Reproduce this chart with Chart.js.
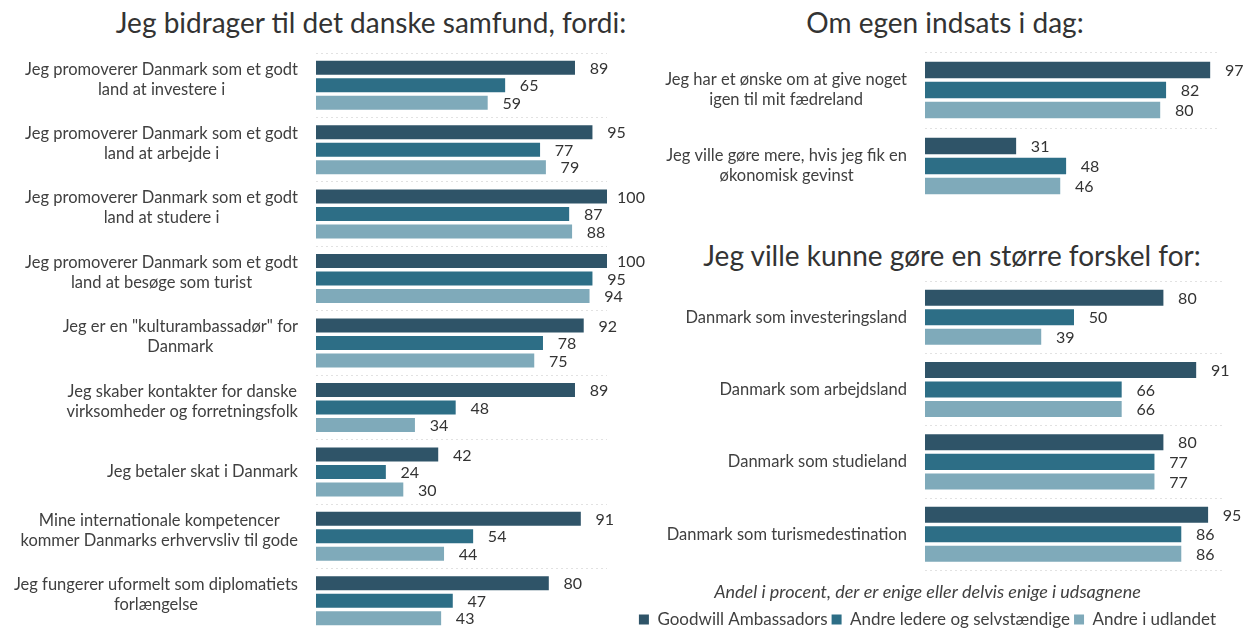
<!DOCTYPE html>
<html>
<head>
<meta charset="utf-8">
<script src="https://cdn.jsdelivr.net/npm/chart.js@4.4.1/dist/chart.umd.min.js"></script>
<style>
  body { margin: 0; width: 1245px; height: 628px; background: #fff; overflow: hidden; position: relative; font-family: Lato, sans-serif; }
  canvas { position: absolute; }
  .title { position: absolute; width: 640px; height: 34px; line-height: 34px; font-size: 28px; color: #333; text-align: center; white-space: nowrap; }
</style>
</head>
<body>
<div class="title" style="left:51px; top:5px;">Jeg bidrager til det danske samfund, fordi:</div>
<div class="title" style="left:625px; top:5px;">Om egen indsats i dag:</div>
<div class="title" style="left:632px; top:238px;">Jeg ville kunne gøre en større forskel for:</div>

<canvas id="leftChart" width="660" height="580" style="left:0; top:53px;"></canvas>
<canvas id="topChart" width="605" height="152" style="left:640px; top:52px;"></canvas>
<canvas id="bottomChart" width="613" height="357" style="left:632px; top:281px;"></canvas>

<script>
// series
const seriesNames = ["Goodwill Ambassadors", "Andre ledere og selvstændige", "Andre i udlandet"];
const seriesColors = ["#2f5468", "#2d6e86", "#7faaba"];

// left panel
const leftCategories = [
  ["Jeg promoverer Danmark som et godt", "land at investere i"],
  ["Jeg promoverer Danmark som et godt", "land at arbejde i"],
  ["Jeg promoverer Danmark som et godt", "land at studere i"],
  ["Jeg promoverer Danmark som et godt", "land at besøge som turist"],
  ["Jeg er en \"kulturambassadør\" for", "Danmark"],
  ["Jeg skaber kontakter for danske", "virksomheder og forretningsfolk"],
  "Jeg betaler skat i Danmark",
  ["Mine internationale kompetencer", "kommer Danmarks erhvervsliv til gode"],
  ["Jeg fungerer uformelt som diplomatiets", "forlængelse"]
];
const leftGoodwill = [89, 95, 100, 100, 92, 89, 42, 91, 80];
const leftLedere = [65, 77, 87, 95, 78, 48, 24, 54, 47];
const leftUdlandet = [59, 79, 88, 94, 75, 34, 30, 44, 43];

// right top panel
const topCategories = [
  ["Jeg har et ønske om at give noget", "igen til mit fædreland"],
  ["Jeg ville gøre mere, hvis jeg fik en", "økonomisk gevinst"]
];
const topGoodwill = [97, 31];
const topLedere = [82, 48];
const topUdlandet = [80, 46];

// right bottom panel
const bottomCategories = [
  "Danmark som investeringsland",
  "Danmark som arbejdsland",
  "Danmark som studieland",
  "Danmark som turismedestination"
];
const bottomGoodwill = [80, 91, 80, 95];
const bottomLedere = [50, 66, 77, 86];
const bottomUdlandet = [39, 66, 77, 86];

const noteText = "Andel i procent, der er enige eller delvis enige i udsagnene";

// draws the category text blocks and the value labels
const textPlugin = {
  id: 'panelText',
  afterDatasetsDraw(chart, args, opts) {
    const ctx = chart.ctx;
    const yScale = chart.scales.y;
    ctx.save();
    ctx.font = '16.5px Lato';
    ctx.textBaseline = 'middle';
    ctx.fillStyle = '#404040';
    ctx.textAlign = 'center';
    chart.data.labels.forEach((lab, i) => {
      const lines = Array.isArray(lab) ? lab : [lab];
      const w = Math.max(...lines.map(l => ctx.measureText(l).width));
      const cx = yScale.right - 18 - w / 2;
      const cy = yScale.getPixelForValue(i) + (lines.length > 1 ? opts.shift : 0);
      lines.forEach((l, k) => ctx.fillText(l, cx, cy + (k - (lines.length - 1) / 2) * 20));
    });
    ctx.font = '16px Lato';
    ctx.fillStyle = '#333';
    chart.data.datasets.forEach((ds, d) => {
      chart.getDatasetMeta(d).data.forEach((bar, i) => {
        ctx.fillText(ds.data[i], bar.x + 24, bar.y + 1);
      });
    });
    ctx.restore();
  }
};

function makeChart(id, labels, g, l, u, cfg) {
  const values = [g, l, u];
  return new Chart(document.getElementById(id), {
    type: 'bar',
    data: {
      labels: labels,
      datasets: values.map((v, i) => ({
        label: seriesNames[i],
        data: v,
        backgroundColor: seriesColors[i],
        categoryPercentage: cfg.catPct,
        barPercentage: cfg.barPct
      }))
    },
    options: {
      indexAxis: 'y',
      responsive: false,
      animation: false,
      layout: { padding: { right: cfg.padRight } },
      scales: {
        x: { display: false, min: 0, max: 100 },
        y: {
          afterFit(scale) { scale.width = cfg.axisWidth; },
          ticks: { display: false },
          grid: { color: '#e2e2e2', drawTicks: false },
          border: { display: false, dash: [2, 3] }
        }
      },
      plugins: {
        tooltip: { enabled: false },
        panelText: { shift: cfg.shift },
        legend: {
          display: cfg.legend,
          position: 'bottom',
          weight: 1000,
          labels: {
            boxWidth: 10, boxHeight: 10, padding: 4,
            color: '#404040',
            font: { family: 'Lato', size: 17 }
          }
        },
        subtitle: {
          display: cfg.legend,
          position: 'bottom',
          weight: 500,
          text: noteText,
          color: '#404040',
          font: { family: 'Lato', size: 18, style: 'italic' },
          padding: { top: 11, bottom: 4 }
        }
      }
    },
    plugins: [textPlugin]
  });
}

makeChart('leftChart', leftCategories, leftGoodwill, leftLedere, leftUdlandet,
  { axisWidth: 316, padRight: 53, catPct: 0.815, barPct: 0.8, shift: -6, legend: false });
makeChart('topChart', topCategories, topGoodwill, topLedere, topUdlandet,
  { axisWidth: 285, padRight: 26, catPct: 0.79, barPct: 0.82, shift: 0, legend: false });
makeChart('bottomChart', bottomCategories, bottomGoodwill, bottomLedere, bottomUdlandet,
  { axisWidth: 293, padRight: 22, catPct: 0.81, barPct: 0.82, shift: 0, legend: true });
</script>
</body>
</html>
